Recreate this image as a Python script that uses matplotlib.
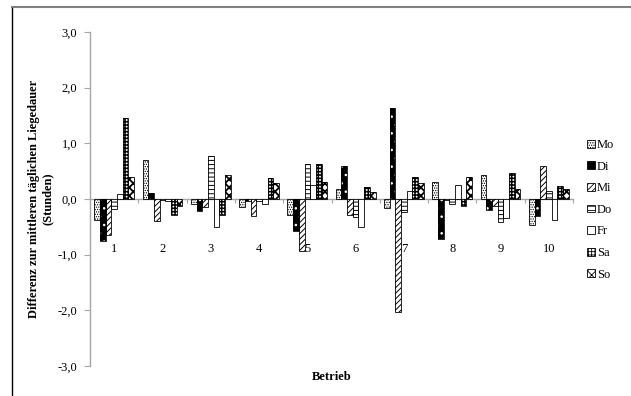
import matplotlib
matplotlib.use('Agg')
import matplotlib.pyplot as plt
import numpy as np
from matplotlib.patches import Rectangle
from matplotlib.lines import Line2D

plt.rcParams['font.family'] = ['Liberation Serif', 'DejaVu Serif']
plt.rcParams['hatch.linewidth'] = 0.6

# ---- data ----
betriebe = ['1', '2', '3', '4', '5', '6', '7', '8', '9', '10']
days = ['Mo', 'Di', 'Mi', 'Do', 'Fr', 'Sa', 'So']
mo = [-0.38, 0.70, -0.09, -0.15, -0.28, 0.18, -0.17, 0.30, 0.44, -0.46]
di = [-0.75, 0.10, -0.21, -0.04, -0.57, 0.59, 1.63, -0.71, -0.20, -0.31]
mi = [-0.65, -0.40, -0.14, -0.30, -0.93, -0.29, -2.03, -0.01, -0.13, 0.59]
do = [-0.18, -0.01, 0.77, -0.04, 0.63, -0.32, -0.23, -0.09, -0.42, 0.14]
fr = [0.09, -0.03, -0.50, -0.09, 0.25, -0.50, 0.14, 0.25, -0.35, -0.38]
sa = [1.45, -0.29, -0.29, 0.37, 0.63, 0.21, 0.39, -0.13, 0.47, 0.24]
so = [0.40, -0.13, 0.44, 0.28, 0.30, 0.12, 0.28, 0.39, 0.18, 0.18]
yticks = [-3, -2, -1, 0, 1, 2, 3]
ytick_labels = ['-3,0', '-2,0', '-1,0', '0,0', '1,0', '2,0', '3,0']
ylabel = 'Differenz zur mittleren täglichen Liegedauer\n(Stunden)'
xlabel = 'Betrieb'

series = [mo, di, mi, do, fr, sa, so]

# ---- styles: (facecolor, hatchcolor, hatch, hatch linewidth) ----
styles = [
    ('white', 'black', '.......', 0.6),
    ('black', 'white', '..', 0.6),
    ('white', 'black', '//////', 0.7),
    ('white', 'black', '----', 0.7),
    ('white', 'black', None, 0.6),
    ('white', 'black', '+++++', 1.1),
    ('white', 'black', 'xxxx', 1.3),
]

fig = plt.figure(figsize=(6.31, 3.96), dpi=100)
W, H = 631, 396
ax = fig.add_axes([90 / W, 1 - 366 / H, 483 / W, 334 / H])

x = np.arange(len(betriebe))
width = 0.118
FS = 9
for i, (vals, (fc, hc, hatch, hlw)) in enumerate(zip(series, styles)):
    off = (i - 3) * width
    with plt.rc_context({'hatch.linewidth': hlw}):
        bars = ax.bar(x + off, vals, width, color=fc, edgecolor=hc,
                      hatch=hatch, linewidth=0, zorder=3)
        for b in bars:
            if hasattr(b, 'set_hatch_linewidth'):
                b.set_hatch_linewidth(hlw)
    ax.bar(x + off, vals, width, fill=False, edgecolor='black',
           linewidth=0.6, zorder=4)

ax.set_xlim(-0.5, len(betriebe) - 0.5)
ax.set_ylim(-3, 3)
ax.set_yticks(yticks)
ax.set_yticklabels(ytick_labels, fontsize=FS)
ax.set_xticks(np.arange(-0.5, len(betriebe), 1.0))
ax.set_xticklabels([])

grey = '#a6a6a6'
for s in ['top', 'right']:
    ax.spines[s].set_visible(False)
ax.spines['left'].set_color(grey)
ax.spines['bottom'].set_color(grey)
ax.spines['bottom'].set_position(('data', 0))
ax.spines['left'].set_linewidth(1.0)
ax.spines['bottom'].set_linewidth(1.0)
ax.tick_params(axis='y', colors=grey, labelcolor='black', length=4,
               width=0.8, pad=5)
ax.tick_params(axis='x', colors=grey, length=3, width=0.8)

for xi, lab in zip(x, betriebe):
    ax.text(xi, -0.9, lab, ha='center', va='center', fontsize=FS)

fig.text(41 / W, 1 - 199 / H, ylabel, rotation=90, ha='center',
         va='center', multialignment='center', fontsize=FS,
         fontweight='bold', linespacing=1.2)
fig.text(332 / W, 1 - 377 / H, xlabel, ha='center', va='center',
         fontsize=FS, fontweight='bold')

handles = []
for fc, hc, hatch, hlw in styles:
    handles.append(Rectangle((0, 0), 1, 1, facecolor=fc, edgecolor='black',
                             hatch=hatch, linewidth=0.6))
fig.legend(handles, days, loc='upper left',
           bbox_to_anchor=(587 / W, 1 - 139 / H), frameon=False,
           fontsize=FS, handlelength=0.6, handleheight=0.6,
           handletextpad=0.2, labelspacing=0.77, borderpad=0,
           borderaxespad=0)

# figure frame lines
fig.add_artist(Line2D([12 / W, 12 / W], [0, 1 - 7 / H], color='black',
                      linewidth=1.0, transform=fig.transFigure))
fig.add_artist(Line2D([12 / W, 1], [1 - 7 / H, 1 - 7 / H], color='#808080',
                      linewidth=1.5, transform=fig.transFigure))

fig.savefig('out.png', dpi=100)
